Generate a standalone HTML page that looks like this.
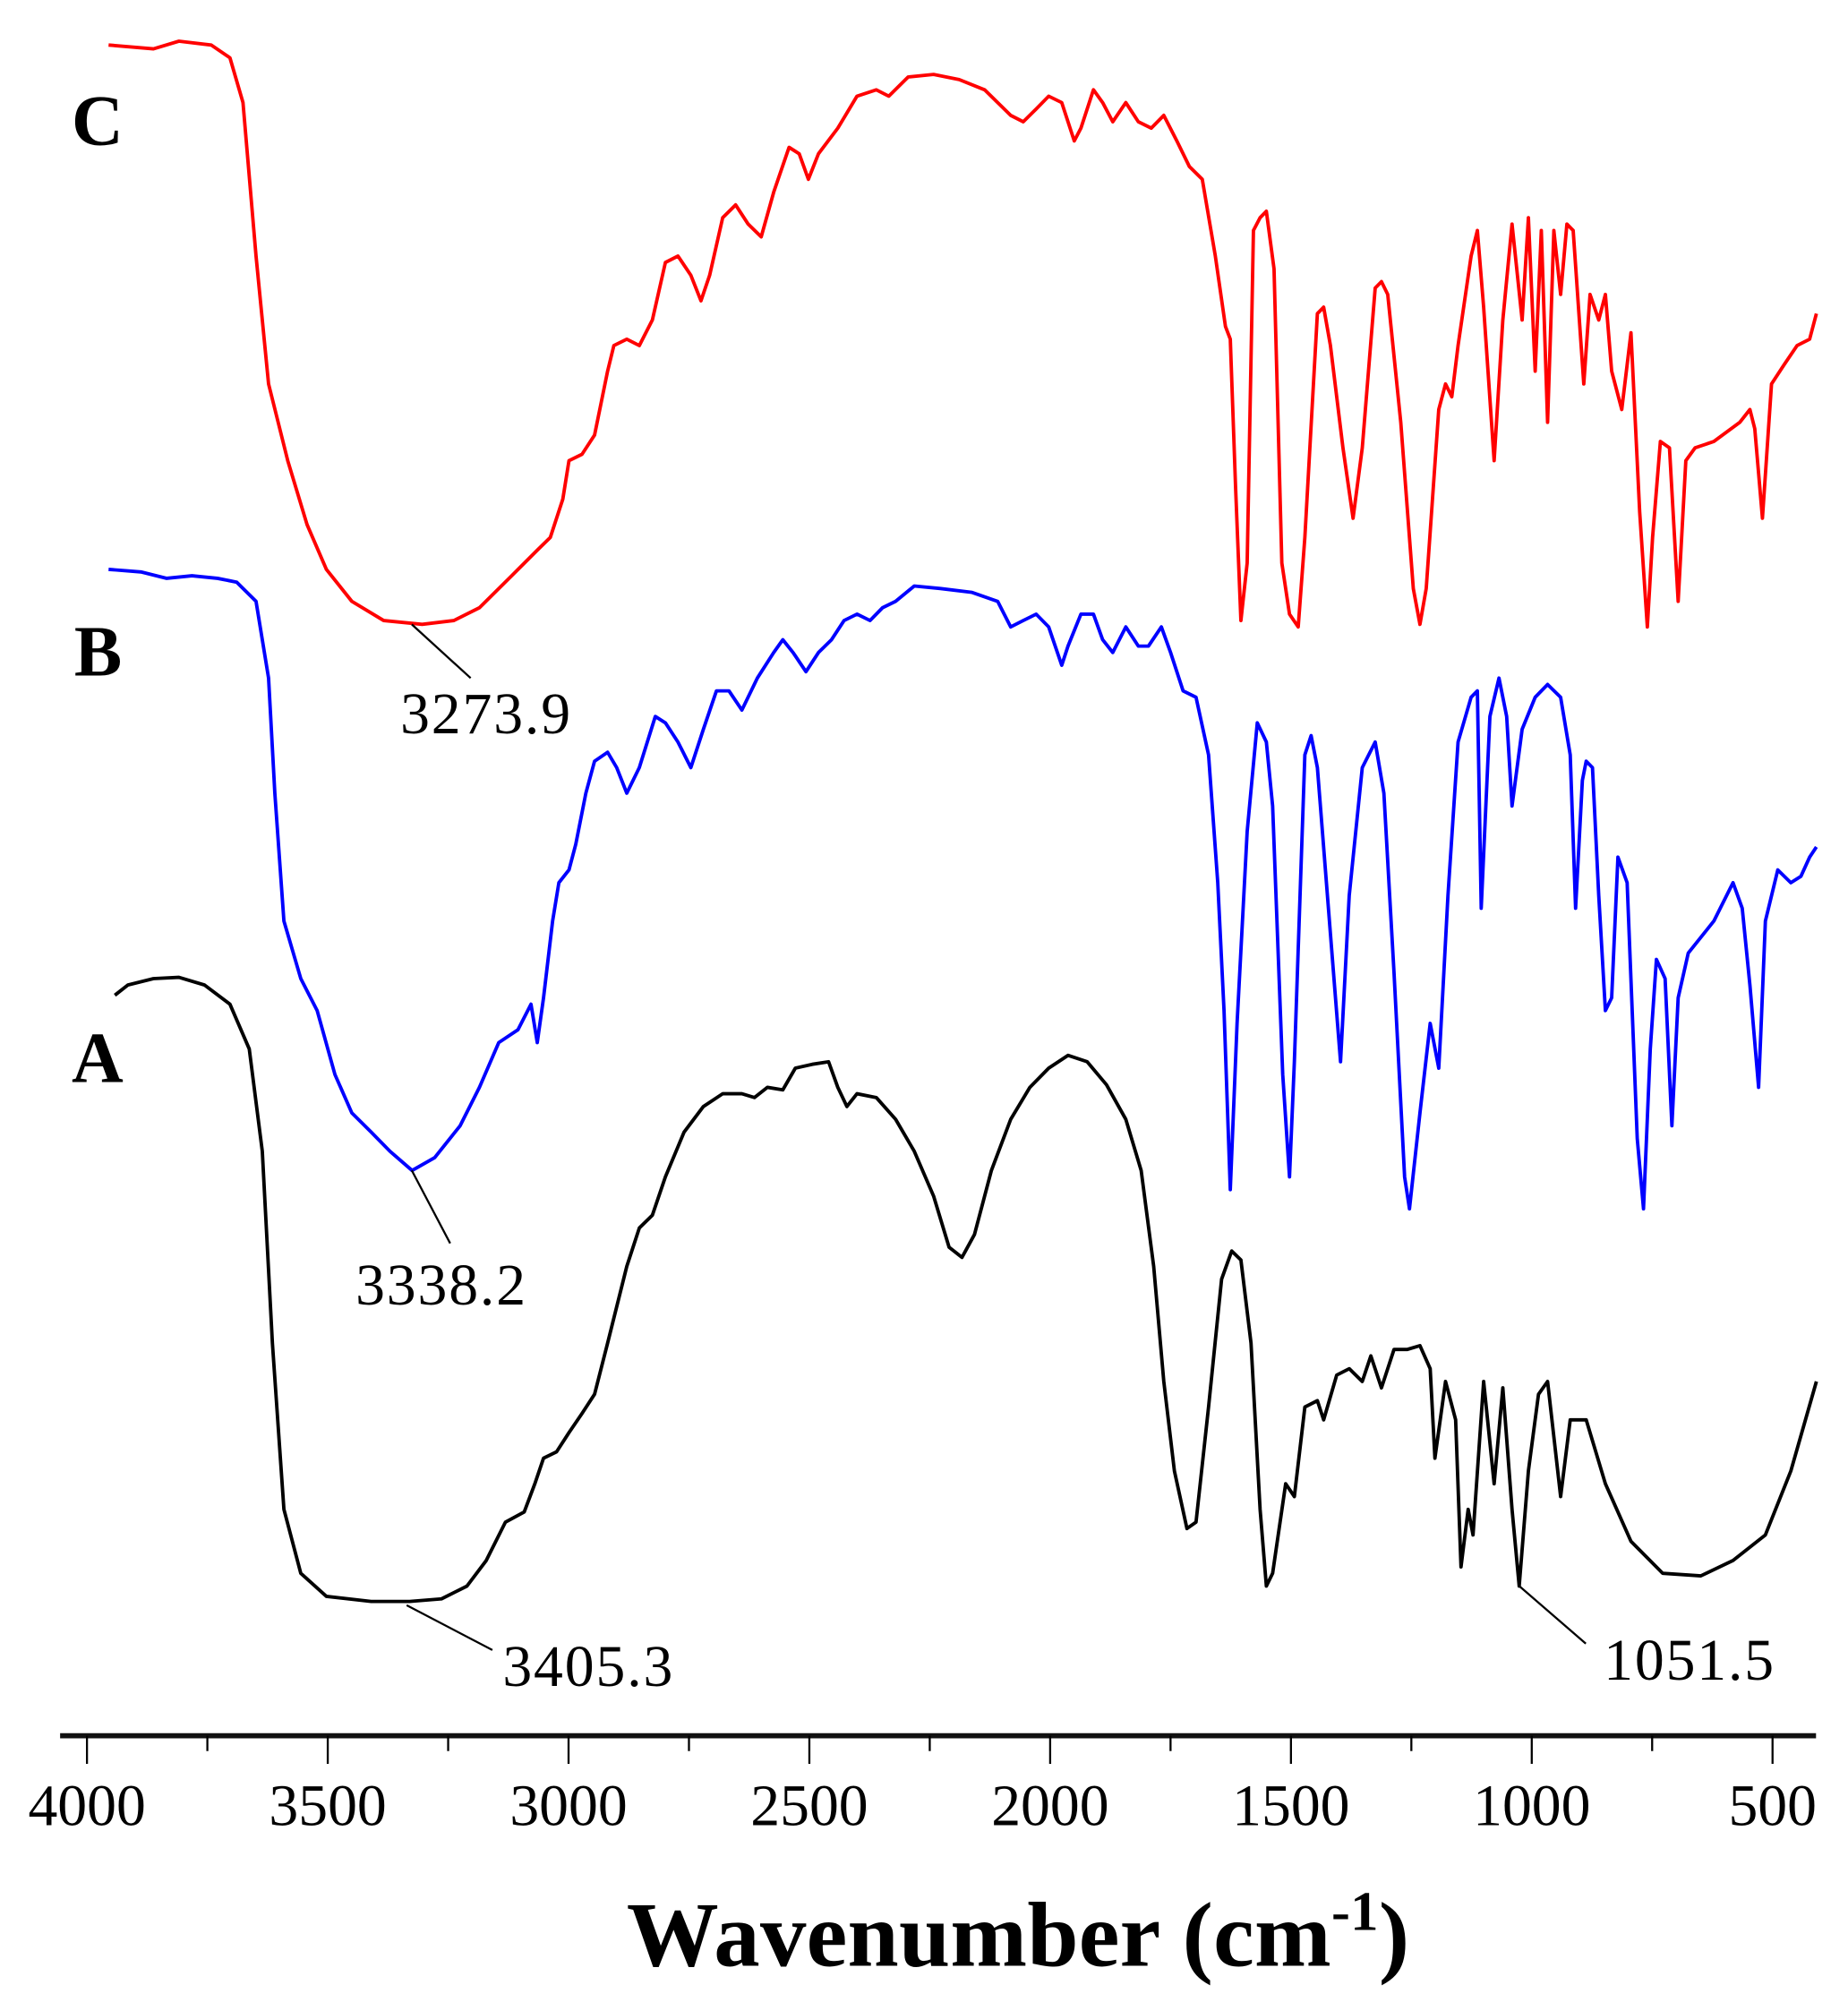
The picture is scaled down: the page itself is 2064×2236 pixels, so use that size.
<!DOCTYPE html>
<html><head><meta charset="utf-8"><style>html,body{margin:0;padding:0;background:#fff}svg{display:block}</style></head>
<body>
<svg id="chart" width="2064" height="2236" viewBox="0 0 1445 1565" xmlns="http://www.w3.org/2000/svg">
<g id="axis"></g>
<g id="series"></g>
<g font-family="Liberation Serif, serif" font-weight="bold" font-size="56" fill="#000">
<text x="56" y="113">C</text>
<text x="58" y="528">B</text>
<text x="56" y="846">A</text>
</g>
<g font-family="Liberation Serif, serif" font-size="46" fill="#000" stroke-width="1.6">
<line x1="322" y1="488" x2="368" y2="530" stroke="#000"/>
<text x="313" y="573" textLength="133">3273.9</text>
<line x1="322" y1="915" x2="352" y2="972" stroke="#000"/>
<text x="278" y="1020" textLength="133">3338.2</text>
<line x1="318" y1="1255" x2="385" y2="1290" stroke="#000"/>
<text x="393" y="1318" textLength="133">3405.3</text>
<line x1="1188" y1="1240" x2="1240" y2="1285" stroke="#000"/>
<text x="1254" y="1313" textLength="133">1051.5</text>
</g>
<text x="490" y="1537" font-family="Liberation Serif, serif" font-weight="bold" font-size="72" textLength="612">Wavenumber (cm<tspan font-size="44" dy="-28">-1</tspan><tspan dy="28">)</tspan></text>
</svg>
<script>
const tickValues = [4000,3750,3500,3250,3000,2750,2500,2250,2000,1750,1500,1250,1000,750,500];
const tickLabels = ["4000","3500","3000","2500","2000","1500","1000","500"];
const specC = [[3955,3.5],[3862,3.8],[3809,3.2],[3742,3.5],[3703,4.5],[3676,8],[3649,20],[3623,30],[3583,36],[3543,41],[3503,44.5],[3450,47],[3384,48.5],[3304,48.8],[3238,48.5],[3185,47.5],[3118,45],[3065,43],[3038,42],[3012,39],[2999,36],[2972,35.5],[2946,34],[2919,29],[2906,27],[2879,26.5],[2853,27],[2826,25],[2799,20.5],[2773,20],[2746,21.5],[2725,23.5],[2707,21.5],[2680,17],[2653,16],[2627,17.5],[2600,18.5],[2574,15],[2542,11.5],[2521,12],[2502,14],[2481,12],[2441,10],[2401,7.5],[2361,7],[2335,7.5],[2295,6],[2242,5.8],[2189,6.2],[2136,7],[2082,9],[2056,9.5],[2029,8.5],[2003,7.5],[1976,8],[1950,11],[1936,10],[1910,7],[1891,8],[1870,9.5],[1843,8],[1817,9.5],[1790,10],[1764,9],[1737,11],[1711,13],[1684,14],[1657,20],[1636,25.5],[1626,26.5],[1615,38],[1604,48.5],[1591,44],[1578,18],[1564,17],[1551,16.5],[1535,21],[1519,44],[1503,48],[1485,49],[1471,42],[1445,24.5],[1432,24],[1418,27],[1392,35],[1371,40.5],[1352,35],[1325,22.5],[1312,22],[1299,23],[1272,33],[1246,46],[1232,48.8],[1219,46],[1193,32],[1179,30],[1166,31],[1153,27],[1126,20],[1113,18],[1100,24],[1078,36],[1060,25],[1041,17.5],[1020,25],[1007,17],[993,29],[980,18],[967,33],[954,18],[940,23],[927,17.5],[914,18],[892,30],[879,23],[861,25],[847,23],[834,29],[813,32],[794,26],[776,40],[760,49],[749,42],[733,34.5],[714,35],[696,47],[680,36],[661,35],[622,34.5],[568,33],[547,32],[537,33.5],[521,40.5],[502,30],[476,28.5],[449,27],[423,26.5],[409,24.5]];
const specB = [[3955,44.5],[3888,44.7],[3835,45.2],[3782,45],[3729,45.2],[3689,45.5],[3649,47],[3623,53],[3610,62],[3591,72],[3556,76.5],[3522,79],[3485,84],[3450,87],[3410,88.5],[3371,90],[3325,91.5],[3278,90.5],[3225,88],[3185,85],[3145,81.5],[3105,80.5],[3078,78.5],[3065,81.5],[3052,78],[3033,72],[3020,69],[2999,68],[2985,66],[2964,62],[2946,59.5],[2919,58.8],[2900,60],[2879,62],[2853,60],[2820,56],[2799,56.5],[2773,58],[2746,60],[2720,57],[2693,54],[2667,54],[2640,55.5],[2608,53],[2574,51],[2555,50],[2534,51],[2507,52.5],[2481,51],[2454,50],[2428,48.5],[2401,48],[2374,48.5],[2348,47.5],[2321,47],[2282,45.8],[2228,46],[2162,46.3],[2109,47],[2082,49],[2056,48.5],[2029,48],[2003,49],[1976,52],[1963,50.5],[1936,48],[1910,48],[1891,50],[1870,51],[1843,49],[1817,50.5],[1796,50.5],[1769,49],[1750,51],[1724,54],[1697,54.5],[1671,59],[1652,69],[1639,79],[1626,93],[1612,80],[1591,65],[1570,56.5],[1551,58],[1538,63],[1517,84],[1503,92],[1493,83],[1471,59],[1458,57.5],[1445,60],[1418,73],[1397,83],[1379,70],[1352,60],[1325,58],[1307,62],[1286,76],[1264,92],[1254,94.5],[1232,87],[1211,80],[1193,83.5],[1174,70],[1153,58],[1126,54.5],[1113,54],[1105,71],[1087,56],[1068,53],[1052,56],[1041,63],[1020,57],[993,54.5],[967,53.5],[940,54.5],[920,59],[909,71],[895,61],[887,59.5],[874,60],[861,70],[847,79],[834,78],[821,67],[802,69],[781,89],[768,94.5],[754,82],[741,75],[723,76.5],[709,88],[696,78],[675,74.5],[622,72],[582,69],[563,71],[547,77],[529,85],[515,72],[489,68],[462,69],[441,68.5],[423,67],[409,66.2]];
const specA = [[3942,77.8],[3915,77],[3862,76.5],[3809,76.4],[3756,77],[3703,78.5],[3663,82],[3636,90],[3615,105],[3591,118],[3556,123],[3503,124.8],[3410,125.2],[3330,125.2],[3264,125],[3211,124],[3171,122],[3131,119],[3092,118.2],[3070,116],[3052,114],[3025,113.5],[2999,112],[2972,110.5],[2946,109],[2919,105],[2879,99],[2853,96],[2826,95],[2799,92],[2760,88.5],[2720,86.5],[2680,85.5],[2640,85.5],[2614,85.8],[2587,85],[2555,85.2],[2529,83.5],[2494,83.2],[2460,83],[2441,85],[2422,86.5],[2401,85.5],[2361,85.8],[2321,87.5],[2282,90],[2242,93.5],[2210,97.5],[2183,98.3],[2157,96.5],[2122,91.5],[2082,87.5],[2042,85],[2003,83.5],[1963,82.5],[1923,83],[1883,84.8],[1843,87.5],[1811,91.5],[1785,99],[1764,108],[1742,115],[1716,119.5],[1697,119],[1671,110],[1644,100],[1623,97.8],[1604,98.5],[1583,105],[1564,118],[1551,124],[1538,123],[1511,116],[1493,117],[1471,110],[1445,109.5],[1432,111],[1405,107.5],[1379,107],[1352,108],[1334,106],[1312,108.5],[1286,105.5],[1259,105.5],[1232,105.2],[1211,107],[1201,114],[1179,108],[1158,111],[1147,122.5],[1132,118],[1122,120],[1100,108],[1078,116],[1060,108.5],[1041,118],[1026,124],[1007,115],[986,109],[967,108],[940,117],[920,111],[887,111],[847,116],[794,120.5],[728,123],[649,123.2],[582,122],[515,120],[462,115],[409,108]];

const NS = "http://www.w3.org/2000/svg";
const X0 = 68, XPER = 1318/3500;
const xScale = w => X0 + (4000 - w) * XPER;
const yScale = a => a * 10;
const axis = document.getElementById('axis');
const base = document.createElementNS(NS,'line');


base.setAttribute('x1',47);base.setAttribute('x2',1420);base.setAttribute('y1',1357);base.setAttribute('y2',1357);
base.setAttribute('stroke','#111');base.setAttribute('stroke-width','4');
axis.appendChild(base);
tickValues.forEach((v,i)=>{
  const t = document.createElementNS(NS,'line');
  
  
  const x = xScale(v);
  t.setAttribute('x1',x);t.setAttribute('x2',x);t.setAttribute('y1',1357);
  t.setAttribute('y2', i%2===0 ? 1379 : 1369);
  t.setAttribute('stroke','#000');t.setAttribute('stroke-width','1.6');
  axis.appendChild(t);
});
tickLabels.forEach(lbl=>{
  const tx = document.createElementNS(NS,'text');
  
  
  tx.setAttribute('x', xScale(+lbl));
  tx.setAttribute('y', 1427);
  tx.setAttribute('text-anchor','middle');
  tx.setAttribute('font-family','Liberation Serif, serif');
  tx.setAttribute('font-size','46');
  tx.textContent = lbl;
  axis.appendChild(tx);
});
const series = document.getElementById('series');
[[specC,'#ff0000','spectrum-c'],[specB,'#0000ff','spectrum-b'],[specA,'#000000','spectrum-a']].forEach(([d,c,n])=>{
  const p = document.createElementNS(NS,'polyline');
  
  
  p.setAttribute('points', d.map(([w,a])=>xScale(w).toFixed(1)+','+yScale(a).toFixed(1)).join(' '));
  p.setAttribute('fill','none');p.setAttribute('stroke',c);p.setAttribute('stroke-width','2.7');
  p.setAttribute('stroke-linejoin','round');
  series.appendChild(p);
});
</script>
</body></html>
